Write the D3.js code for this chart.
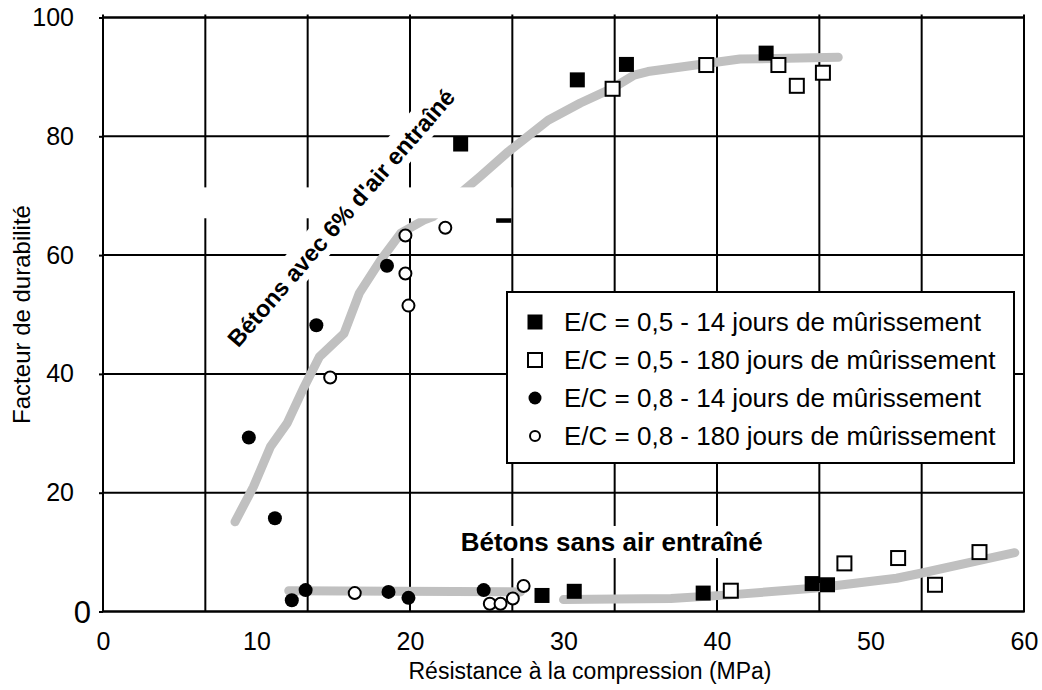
<!DOCTYPE html>
<html lang="fr">
<head>
<meta charset="UTF-8">
<title>Facteur de durabilité</title>
<style>
  html, body { margin: 0; padding: 0; background: #fff; }
  svg { display: block; font-family: "Liberation Sans", Arial, sans-serif; }
</style>
</head>
<body>
<script src="https://d3js.org/d3.v7.min.js"></script>
<script>
// points: [résistance MPa, facteur de durabilité]
const ec05j14 = [[23.3, 78.7], [26.1, 66.7], [30.9, 89.5], [34.1, 92.1], [43.2, 94.0],
  [28.6, 2.7], [30.7, 3.4], [39.1, 3.1], [46.2, 4.7], [47.2, 4.5]];
const ec05j180 = [[33.2, 88.0], [39.3, 92.0], [44.0, 92.0], [45.2, 88.5], [46.9, 90.7],
  [40.9, 3.5], [48.3, 8.1], [51.8, 9.0], [54.2, 4.5], [57.1, 10.0]];
const ec08j14 = [[9.5, 29.3], [11.2, 15.7], [13.9, 48.2], [18.5, 58.2],
  [12.3, 1.9], [13.2, 3.6], [18.6, 3.3], [19.9, 2.3], [24.8, 3.6]];
const ec08j180 = [[14.8, 39.4], [19.7, 63.3], [19.7, 56.9], [19.9, 51.5], [22.3, 64.6],
  [16.4, 3.1], [25.2, 1.3], [25.9, 1.3], [26.7, 2.2], [27.4, 4.3]];

// tendances (traits gris)
const courbeAvecAir = [[8.6, 15.1], [9.8, 21.0], [10.9, 27.7], [12.0, 31.7], [13.1, 37.8],
  [14.1, 42.9], [15.7, 46.8], [16.7, 53.6], [18.1, 59.2], [19.4, 63.7], [20.9, 65.9],
  [21.5, 66.5], [24.6, 73.3], [26.4, 77.4], [29.0, 82.7], [31.1, 85.6], [33.2, 88.1],
  [34.6, 90.3], [35.5, 90.9], [41.5, 93.0], [47.9, 93.3]];
const courbeSansAir1 = [[12.1, 3.5], [27.2, 3.3]];
const courbeSansAir2 = [[30.0, 2.0], [37.0, 2.2], [40.8, 2.8], [46.3, 3.9], [51.7, 5.6],
  [53.2, 6.4], [59.4, 9.9]];

const xTicks = [0, 10, 20, 30, 40, 50, 60];
const yTicks = [0, 20, 40, 60, 80, 100];
const legendLabels = [
  "E/C = 0,5 - 14 jours de mûrissement",
  "E/C = 0,5 - 180 jours de mûrissement",
  "E/C = 0,8 - 14 jours de mûrissement",
  "E/C = 0,8 - 180 jours de mûrissement"
];

const width = 1042, height = 690;
const x = d3.scaleLinear().domain([0, 60]).range([103, 1024]);
const y = d3.scaleLinear().domain([0, 100]).range([611.5, 17.5]);

const svg = d3.select("body").append("svg")
  .attr("width", width).attr("height", height);

svg.append("rect").attr("width", width).attr("height", height).attr("fill", "#fff");

// grille : 9 divisions verticales, 5 horizontales
const gGrid = svg.append("g").attr("stroke", "#000").attr("stroke-width", 2);
gGrid.selectAll("line.v").data(d3.range(10).map(i => i * 60 / 9)).join("line")
  .attr("class", "v")
  .attr("x1", d => x(d)).attr("x2", d => x(d))
  .attr("y1", y(100) - 3).attr("y2", y(0));
gGrid.selectAll("line.h").data(yTicks).join("line")
  .attr("class", "h")
  .attr("x1", x(0)).attr("x2", x(60))
  .attr("y1", d => y(d)).attr("y2", d => y(d));

// fonds blancs des étiquettes
const lab1x = x(15.5), lab1y = y(66.3);
svg.append("rect")
  .attr("x", -172).attr("y", -17).attr("width", 344).attr("height", 33)
  .attr("fill", "#fff")
  .attr("transform", `translate(${lab1x},${lab1y}) rotate(-49)`);
svg.append("rect")
  .attr("x", x(23.0)).attr("width", x(44.2) - x(23.0))
  .attr("y", y(14.4)).attr("height", y(9.0) - y(14.4))
  .attr("fill", "#fff");

// courbes
const line = d3.line().x(d => x(d[0])).y(d => y(d[1]));
svg.selectAll("path.curve").data([courbeAvecAir, courbeSansAir1, courbeSansAir2]).join("path")
  .attr("class", "curve")
  .attr("d", line)
  .attr("fill", "none")
  .attr("stroke", "#c0c0c0")
  .attr("stroke-width", 9)
  .attr("stroke-linecap", "round")
  .attr("stroke-linejoin", "round");

// points
function squares(data, filled) {
  const s = filled ? 15 : 14;
  svg.append("g").selectAll("rect").data(data).join("rect")
    .attr("x", d => x(d[0]) - s / 2).attr("y", d => y(d[1]) - s / 2)
    .attr("width", s).attr("height", s)
    .attr("fill", filled ? "#000" : "#fff")
    .attr("stroke", "#000").attr("stroke-width", filled ? 0 : 2);
}
function circles(data, filled) {
  svg.append("g").selectAll("circle").data(data).join("circle")
    .attr("cx", d => x(d[0])).attr("cy", d => y(d[1]))
    .attr("r", filled ? 7 : 6)
    .attr("fill", filled ? "#000" : "#fff")
    .attr("stroke", "#000").attr("stroke-width", filled ? 0 : 2);
}
squares(ec05j14, true);
squares(ec05j180, false);
circles(ec08j14, true);
circles(ec08j180, false);

// bande blanche qui masque une partie de la courbe (comme sur l'original)
svg.append("rect")
  .attr("x", x(4.0)).attr("width", x(26.6) - x(4.0))
  .attr("y", y(71.4)).attr("height", y(66.2) - y(71.4))
  .attr("fill", "#fff");

// cadre
svg.append("rect")
  .attr("x", x(0)).attr("y", y(100))
  .attr("width", x(60) - x(0)).attr("height", y(0) - y(100))
  .attr("fill", "none").attr("stroke", "#000").attr("stroke-width", 2);

// axes
const xAxis = svg.append("g").attr("transform", `translate(0,${y(0)})`)
  .call(d3.axisBottom(x).tickValues(xTicks).tickSize(0).tickPadding(21));
xAxis.select(".domain").remove();
xAxis.selectAll("text").attr("font-size", 25).attr("font-family", "Liberation Sans, Arial, sans-serif").attr("fill", "#000");

const yAxis = svg.append("g").attr("transform", `translate(${x(0)},0)`)
  .call(d3.axisLeft(y).tickValues(yTicks).tickSize(4).tickPadding(25));
yAxis.select(".domain").remove();
yAxis.selectAll("line").attr("stroke", "#000").attr("stroke-width", 2);
yAxis.selectAll("text").attr("font-size", 25).attr("font-family", "Liberation Sans, Arial, sans-serif").attr("fill", "#000");
yAxis.selectAll(".tick").filter(d => d === 0).select("text")
  .attr("font-size", 31).attr("x", -12).attr("dy", "0.36em");

svg.append("text")
  .attr("x", 590).attr("y", 679)
  .attr("text-anchor", "middle").attr("font-size", 23)
  .text("Résistance à la compression (MPa)");
svg.append("text")
  .attr("transform", `translate(30,${(y(0) + y(100)) / 2}) rotate(-90)`)
  .attr("text-anchor", "middle").attr("font-size", 24)
  .text("Facteur de durabilité");

// annotations
svg.append("text")
  .attr("transform", `translate(${lab1x},${lab1y}) rotate(-49)`)
  .attr("text-anchor", "middle").attr("dy", "0.36em")
  .attr("font-size", 23.5).attr("font-weight", "bold")
  .text("Bétons avec 6% d'air entraîné");
svg.append("text")
  .attr("x", x(23.3)).attr("y", y(11.7)).attr("dy", "0.36em")
  .attr("font-size", 26).attr("font-weight", "bold")
  .text("Bétons sans air entraîné");

// légende
const leg = svg.append("g").attr("transform", "translate(507,292)");
leg.append("rect").attr("width", 507).attr("height", 171)
  .attr("fill", "#fff").attr("stroke", "#000").attr("stroke-width", 2);
const rows = leg.selectAll("g.row").data(legendLabels).join("g")
  .attr("class", "row")
  .attr("transform", (d, i) => `translate(28,${30 + i * 38})`);
rows.each(function (d, i) {
  const g = d3.select(this);
  if (i < 2) {
    const s = i === 0 ? 15 : 14;
    g.append("rect").attr("x", -s / 2).attr("y", -s / 2).attr("width", s).attr("height", s)
      .attr("fill", i === 0 ? "#000" : "#fff").attr("stroke", "#000")
      .attr("stroke-width", i === 0 ? 0 : 2);
  } else {
    g.append("circle").attr("r", i === 2 ? 6.5 : 5)
      .attr("fill", i === 2 ? "#000" : "#fff").attr("stroke", "#000")
      .attr("stroke-width", i === 2 ? 0 : 2);
  }
  g.append("text").attr("x", 29).attr("dy", "0.36em").attr("font-size", 26).text(d);
});
</script>
</body>
</html>
